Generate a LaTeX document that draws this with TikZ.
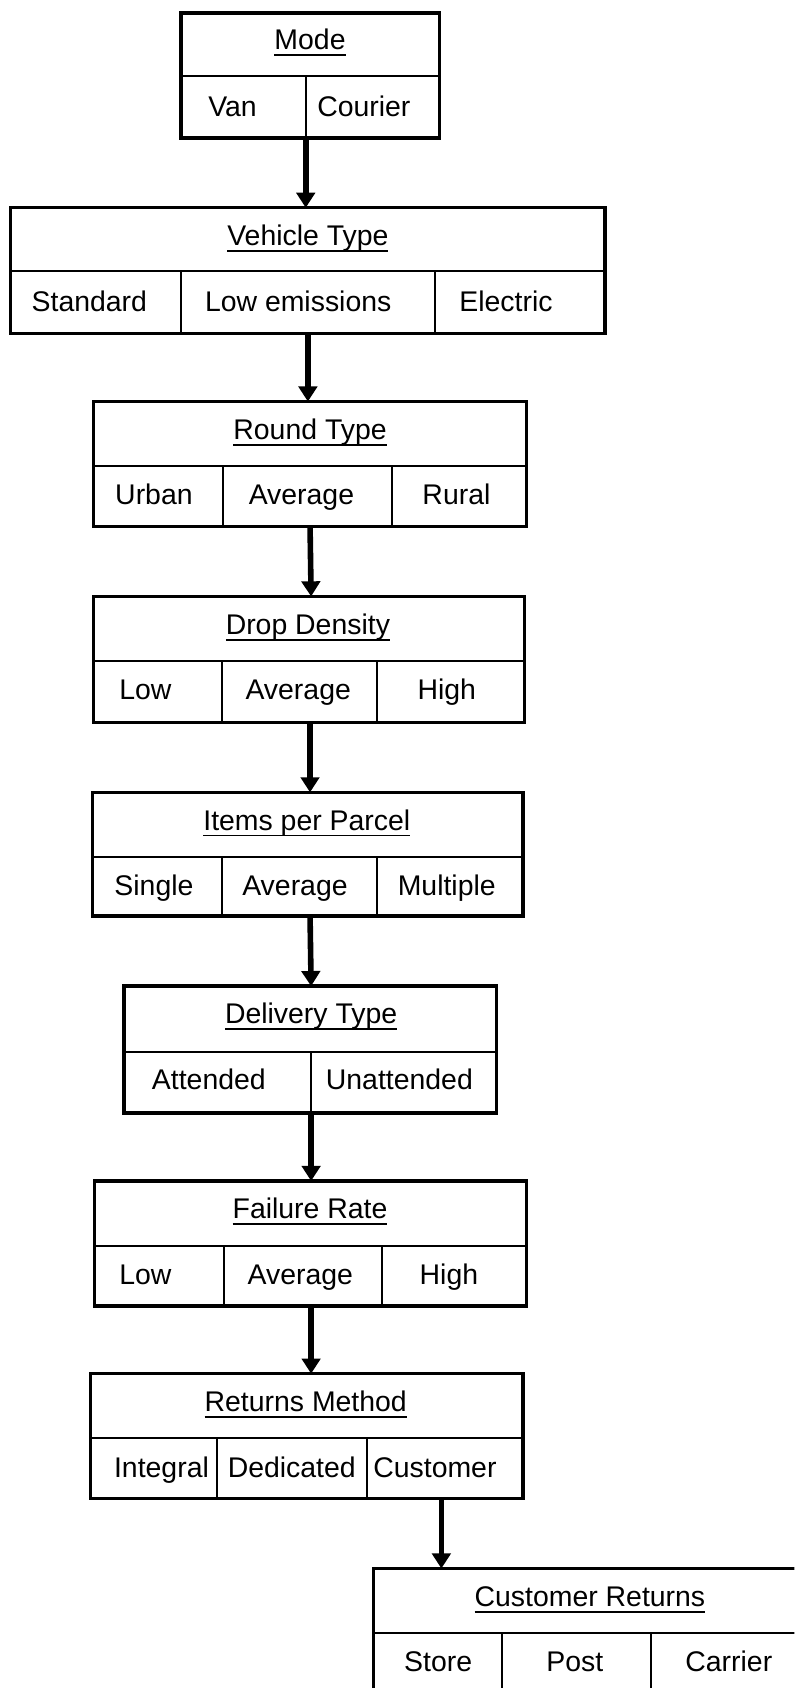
\documentclass[tikz,border=0pt]{standalone}
\usepackage{fontspec}
\setmainfont{Liberation Sans}
\usetikzlibrary{arrows.meta,fit}
\newcommand{\ulined}[1]{\setbox0=\hbox{#1}\leavevmode\rlap{\rule[-3pt]{\wd0}{0.9pt}}\box0}
\begin{document}
\begin{tikzpicture}[x=0.5pt,y=-0.5pt,
  frame/.style={draw, line width=1.6pt, inner sep=0pt, outer sep=0pt},
  sep/.style={line width=0.9pt},
  lbl/.style={anchor=base, inner sep=0pt, font=\fontsize{13.2}{15}\selectfont},
  arr/.style={line width=2.6pt, -{Triangle[width=8.5pt,length=7pt]}},
]
\clip (0,0) rectangle (738,1568);
\fill[white] (0,0) rectangle (738,1568);

% Mode
\node[frame, fit={(168,12) (408,128)}] (mode) {};
\draw[sep] (168,71) -- (408,71) (284,71) -- (284,128);
\node[lbl] (modet) at (288,46) {\ulined{Mode}};
\node[lbl] (van) at (216,108) {Van};
\node[lbl] (courier) at (338,108) {Courier};

% Vehicle Type
\node[frame, fit={(10,193) (562,310)}] (vehicle) {};
\draw[sep] (10,252) -- (562,252) (168,252) -- (168,310) (404,252) -- (404,310);
\node[lbl] (vehiclet) at (286,228) {\ulined{Vehicle Type}};
\node[lbl] (standard) at (83,289) {Standard};
\node[lbl] (lowem) at (277,289) {Low emissions};
\node[lbl] (electric) at (470,289) {Electric};

% Round Type
\node[frame, fit={(87,373) (489,489)}] (round) {};
\draw[sep] (87,433) -- (489,433) (207,433) -- (207,489) (364,433) -- (364,489);
\node[lbl] (roundt) at (288,408) {\ulined{Round Type}};
\node[lbl] (urban) at (143,469) {Urban};
\node[lbl] (ravg) at (280,469) {Average};
\node[lbl] (rural) at (424,469) {Rural};

% Drop Density
\node[frame, fit={(87,554) (487,671)}] (drop) {};
\draw[sep] (87,614) -- (487,614) (206,614) -- (206,671) (350,614) -- (350,671);
\node[lbl] (dropt) at (286,589) {\ulined{Drop Density}};
\node[lbl] (dlow) at (135,650) {Low};
\node[lbl] (davg) at (277,650) {Average};
\node[lbl] (dhigh) at (415,650) {High};

% Items per Parcel
\node[frame, fit={(86,736) (486,851)}] (items) {};
\draw[sep] (86,796) -- (486,796) (206,796) -- (206,851) (350,796) -- (350,851);
\node[lbl] (itemst) at (285,771) {\ulined{Items per Parcel}};
\node[lbl] (single) at (143,832) {Single};
\node[lbl] (iavg) at (274,832) {Average};
\node[lbl] (multiple) at (415,832) {Multiple};

% Delivery Type
\node[frame, fit={(115,916) (461,1034)}] (delivery) {};
\draw[sep] (115,977) -- (461,977) (289,977) -- (289,1034);
\node[lbl] (deliveryt) at (289,951) {\ulined{Delivery Type}};
\node[lbl] (attended) at (194,1012) {Attended};
\node[lbl] (unattended) at (371,1012) {Unattended};

% Failure Rate
\node[frame, fit={(88,1097) (489,1213)}] (failure) {};
\draw[sep] (88,1157) -- (489,1157) (208,1157) -- (208,1213) (355,1157) -- (355,1213);
\node[lbl] (failuret) at (288,1132) {\ulined{Failure Rate}};
\node[lbl] (flow) at (135,1193) {Low};
\node[lbl] (favg) at (279,1193) {Average};
\node[lbl] (fhigh) at (417,1193) {High};

% Returns Method
\node[frame, fit={(84,1276) (486,1392)}] (returns) {};
\draw[sep] (84,1336) -- (486,1336) (202,1336) -- (202,1392) (341,1336) -- (341,1392);
\node[lbl] (returnst) at (284,1311) {\ulined{Returns Method}};
\node[lbl] (integral) at (150,1372) {Integral};
\node[lbl] (dedicated) at (271,1372) {Dedicated};
\node[lbl] (customer) at (404,1372) {Customer};

% Customer Returns
\node[frame, fit={(347,1457) (760,1600)}] (custret) {};
\draw[sep] (347,1517) -- (760,1517) (466,1517) -- (466,1600) (605,1517) -- (605,1600);
\node[lbl] (custrett) at (548,1492) {\ulined{Customer Returns}};
\node[lbl] (store) at (407,1553) {Store};
\node[lbl] (post) at (534,1553) {Post};
\node[lbl] (carrier) at (677,1553) {Carrier};

% Arrows
\draw[arr] (mode.south -| 284,0) -- (vehicle.north -| 284,0);
\draw[arr] (vehicle.south -| 286,0) -- (round.north -| 286,0);
\draw[arr] (round.south -| 288,0) -- (drop.north -| 289,0);
\draw[arr] (drop.south -| 288,0) -- (items.north -| 288,0);
\draw[arr] (items.south -| 288,0) -- (delivery.north -| 289,0);
\draw[arr] (delivery.south -| 289,0) -- (failure.north -| 289,0);
\draw[arr] (failure.south -| 289,0) -- (returns.north -| 289,0);
\draw[arr] (returns.south -| 410,0) -- (custret.north -| 410,0);
\end{tikzpicture}
\end{document}
